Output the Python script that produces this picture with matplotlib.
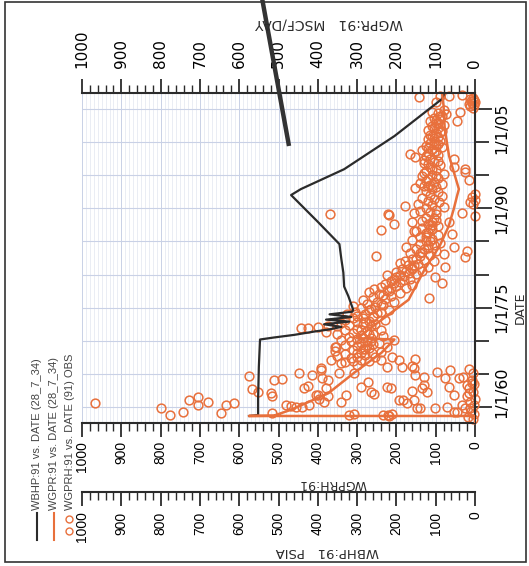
import matplotlib
matplotlib.use("Agg")
import matplotlib.pyplot as plt
from matplotlib.ticker import MultipleLocator, FixedLocator
from matplotlib.lines import Line2D
import matplotlib.transforms as mtransforms

plt.rcParams['font.family'] = ['DejaVu Sans']

ORANGE = '#e8703c'
DARK = '#2b2b2b'
GRID = '#c9d1e6'
GRID_MINOR = '#e1e6f0'

# WBHP:91 vs DATE (28_7_34) - bottom hole pressure, psia
bhp_year = [1958.66, 1958.8, 1961.1, 1966.1, 1970.2, 1970.5, 1970.9, 1971.4, 1971.7,
            1972.1, 1972.5, 1972.9, 1973.2, 1973.6, 1974.0, 1974.4, 1974.7, 1976.7,
            1978.2, 1980.3, 1982.3, 1984.6, 1987.9, 1992.0, 1992.9, 1995.9, 2000.9,
            2006.5, 2007.1]
bhp_psia = [575, 552, 552, 550, 547, 512, 460, 409, 373,
            340, 384, 320, 379, 315, 370, 312, 310, 322,
            333, 335, 340, 345, 399, 468, 443, 333, 205,
            84, 80]

# WGPR:91 vs DATE (28_7_34) - simulated gas rate, MSCF/DAY
gpr_year = [1957.6, 1958.66, 1958.66, 1958.7, 1959.6, 1962.1, 1965.2, 1968.2, 1970.2,
            1970.4, 1976.2, 1980.8, 1984.3, 1987.3, 1989.9, 1991.8, 1992.9, 1995.5,
            1997.9, 2002.0, 2005.5, 2007.4]
gpr_rate = [0, 0, 575, 512, 468, 373, 307, 238, 205,
            300, 169, 128, 90, 67, 54, 46, 41, 54,
            66, 77, 80, 84]

# WGPRH:91 vs DATE (91) OBS - observed gas rate
obs_year = [
    1960.6, 1959.9, 1958.8, 1959.3, 1961.1, 1961.5, 1960.3, 1960.8, 1959.1, 1960.3,
    1960.6, 1964.7, 1962.8, 1962.3, 1962.1, 1961.7, 1964.1, 1964.3, 1959.1, 1960.2,
    1965.2, 1960.0, 1962.9, 1960.3, 1963.2, 1964.9, 1961.8, 1965.6, 1964.4, 1960.8,
    1964.1, 1961.6, 1969.0, 1965.2, 1961.8, 1959.0, 1965.2, 1963.1, 1963.8, 1962.0,
    1962.9, 1958.8, 1959.0, 1961.1, 1962.4, 1961.1, 1959.9, 1962.3, 1965.9, 1964.9,
    1964.6, 1963.4, 1965.3, 1964.4, 1965.6, 1961.8, 1964.4, 1963.4, 1960.0, 1959.3,
    1960.3, 1960.0, 1961.8, 1961.2, 1962.9, 1958.8, 1960.8, 1962.3, 1963.0, 1958.8,
    1958.6, 1961.1, 1960.6, 1959.9, 1962.9, 1959.9, 1963.0, 1959.3, 1960.3, 1959.9,
    1962.1, 1963.6,
    1958.2, 1958.5, 1958.9, 1959.4, 1959.9, 1960.3, 1960.8, 1961.2, 1961.7, 1962.3,
    1962.9, 1963.5, 1964.1, 1964.6, 1965.2, 1965.8,
    1965.9, 1966.1, 1966.1, 1966.2, 1966.4, 1966.6, 1966.8, 1967.0, 1967.1, 1967.1,
    1967.1, 1967.1, 1967.2, 1967.4, 1967.5, 1967.6, 1967.7, 1967.8,
    1968.0, 1968.1, 1968.2, 1968.3, 1968.5, 1968.6, 1968.7, 1968.9, 1969.0, 1969.1,
    1969.2, 1969.4, 1969.5, 1969.6, 1969.7, 1969.9, 1970.0, 1970.1, 1970.2, 1970.3,
    1970.5, 1970.6, 1970.7,
    1970.9, 1971.0, 1971.1, 1971.2, 1971.4, 1971.5, 1971.6, 1971.7, 1971.8, 1972.0,
    1972.0, 1972.1, 1972.2, 1972.3, 1972.4, 1972.5, 1972.6, 1972.7, 1972.8, 1973.0,
    1973.1, 1973.2, 1973.4, 1973.5,
    1973.7, 1973.8, 1974.0, 1974.1, 1974.3, 1974.4, 1974.6, 1974.7, 1974.9, 1975.1,
    1975.2, 1975.4, 1975.6, 1975.8, 1975.9, 1976.1, 1976.3, 1976.4, 1976.6,
    1976.8, 1977.0, 1977.2, 1977.4, 1977.6, 1977.8, 1977.9, 1978.1, 1978.3, 1978.5,
    1978.6, 1978.8, 1978.9, 1979.1, 1979.3, 1979.4, 1979.6,
    1979.7, 1979.8, 1980.0, 1980.1, 1980.3, 1980.4, 1980.6, 1980.8, 1980.9, 1981.1,
    1981.2, 1981.4, 1981.6, 1981.8, 1982.0, 1982.0, 1982.2, 1982.4, 1982.6, 1982.8,
    1982.8,
    1983.0, 1983.1, 1983.2, 1983.4, 1983.5, 1983.6, 1983.8, 1984.0, 1984.1, 1984.2,
    1984.4, 1984.6, 1984.8, 1985.0, 1985.2, 1985.4, 1985.6, 1985.9,
    1986.1, 1986.3, 1986.5, 1986.6, 1986.7, 1986.9, 1987.1, 1987.3, 1987.6, 1987.7,
    1987.9, 1987.9, 1988.1, 1988.3, 1988.5, 1988.8, 1989.0, 1989.1, 1989.1, 1989.3,
    1989.3, 1989.4, 1989.6,
    1989.8, 1990.0, 1990.2, 1990.3, 1990.5, 1990.6, 1990.7, 1990.9, 1990.9, 1991.1,
    1991.2, 1991.4, 1991.6, 1991.7, 1991.8, 1992.0, 1992.2, 1992.4, 1992.6, 1992.9,
    1993.1, 1993.2, 1993.3, 1993.5, 1993.6, 1993.8, 1994.0, 1994.3, 1994.4, 1994.6,
    1994.8, 1995.0, 1995.2, 1995.5, 1995.6, 1995.8, 1995.9, 1996.2, 1996.3, 1996.5,
    1996.8, 1997.0, 1997.3, 1997.4, 1997.5, 1997.8, 1998.0, 1998.2, 1998.4, 1998.6,
    1998.8, 1999.0, 1999.2, 1999.4, 1999.6, 1999.9, 2000.1, 2000.4, 2000.6,
    2000.8, 2001.1, 2001.4, 2001.6, 2001.8, 2002.1, 2002.4, 2002.6, 2002.8, 2003.1,
    2003.2, 2003.5, 2003.7, 2003.9, 2004.2, 2004.4, 2004.6,
    2004.9, 2005.2, 2005.4, 2005.6, 2005.7, 2005.9, 2006.0, 2006.2, 2006.3, 2006.5,
    2006.6, 2006.8, 2007.0, 2007.1, 2006.9, 2006.1,
    1993.4, 1994.1, 1994.9, 1995.3, 1996.0, 1996.7, 1997.2, 1997.9, 1998.5, 1999.1,
    1999.7, 2000.2, 2000.9, 2001.5, 2002.2, 2002.9, 2003.4, 2004.0, 2004.5,
    1976.9, 1977.5, 1978.0, 1978.7, 1979.2, 1979.9, 1980.5, 1981.0, 1981.5, 1982.3,
    1983.3, 1983.9, 1984.5, 1985.1, 1985.7, 1986.4, 1987.0, 1987.5, 1988.0, 1988.6,
    1989.2,
    1966.9, 1967.5, 1968.2, 1968.8, 1969.3, 1969.9, 1970.4, 1971.0, 1971.6, 1972.2,
    1972.9, 1973.6, 1974.2, 1974.8, 1975.5,
]
obs_rate = [
    967, 800, 777, 744, 729, 706, 706, 680, 647, 634,
    614, 575, 568, 552, 519, 517, 512, 491, 517, 468,
    448, 440, 435, 422, 425, 414, 399, 391, 389, 384,
    373, 373, 355, 345, 327, 307, 307, 289, 271, 258,
    215, 222, 210, 182, 161, 156, 141, 123, 156, 153,
    130, 130, 97, 77, 64, 54, 41, 20, 72, 46,
    481, 455, 404, 398, 380, 320, 340, 265, 225, 233,
    220, 194, 174, 148, 136, 102, 67, 54, 33, 13,
    15, 8,
    5, 18, 2, 10, 25, 3, 12, 0, 20, 6,
    14, 2, 8, 30, 4, 15,
    391, 225, 187, 161, 300, 340, 332, 270, 366, 289,
    238, 194, 153, 315, 255, 212, 350, 280,
    330, 300, 262, 240, 355, 310, 285, 270, 353, 225,
    300, 330, 260, 290, 245, 315, 275, 205, 340, 300,
    265, 320, 235,
    290, 350, 260, 310, 380, 275, 330, 240, 300, 442,
    425, 399, 373, 350, 320, 285, 255, 340, 300, 270,
    330, 230, 310, 285,
    300, 260, 325, 280, 240, 305, 270, 220, 290, 255,
    310, 235, 275, 250, 205, 285, 230, 118, 260,
    215, 245, 190, 270, 225, 256, 175, 240, 200, 160,
    230, 84, 190, 215, 205, 165, 200,
    102, 180, 225, 150, 169, 200, 135, 185, 160, 120,
    77, 170, 145, 190, 179, 105, 130, 160, 26, 251,
    140,
    115, 79, 165, 135, 20, 100, 150, 120, 54, 175,
    105, 140, 90, 125, 160, 110, 140, 95,
    59, 125, 150, 156, 238, 110, 135, 95, 207, 120,
    161, 66, 136, 100, 125, 0, 220, 368, 222, 156,
    33, 115, 140,
    100, 125, 80, 179, 110, 5, 145, 92, 13, 120,
    0, 105, 135, 8, 85, 115, 0, 95, 125, 110,
    153, 100, 130, 115, 85, 140, 105, 15, 120, 95,
    135, 110, 80, 26, 125, 100, 26, 54, 115, 90,
    130, 105, 130, 54, 115, 153, 95, 166, 120, 100,
    135, 110, 85, 125, 100, 115, 90, 120, 105,
    95, 115, 100, 85, 120, 95, 110, 80, 100, 46,
    115, 90, 105, 90, 75, 95, 38,
    80, 5, 12, 2, 15, 8, 0, 10, 3, 13,
    6, 143, 66, 33, 90, 100,
    120, 125, 100, 130, 110, 120, 95, 125, 105, 120,
    95, 105, 110, 90, 105, 95, 100, 85, 110,
    235, 220, 215, 205, 180, 190, 175, 160, 155, 150,
    140, 130, 120, 115, 125, 120, 115, 110, 110, 105,
    100,
    310, 300, 290, 280, 275, 265, 285, 270, 290, 265,
    280, 260, 250, 265, 240,
]

date_ticks = [1960, 1975, 1990, 2005]
date_labels = ['1/1/60', '1/1/75', '1/1/90', '1/1/05']
date_minor = [1965, 1970, 1980, 1985, 1995, 2000]

W, H = 529, 566
fig = plt.figure(figsize=(W / 100, H / 100), dpi=100)
L, R, T, B = 82, 475, 93, 423
ax = fig.add_axes([L / W, 1 - B / H, (R - L) / W, (B - T) / H])
ax.set_xlim(1000, 0)
ax.set_ylim(1957.6, 2007.4)

# grid paper
for v in range(0, 1001, 10):
    ax.axvline(v, color=GRID if v % 100 == 0 else GRID_MINOR, lw=0.7 if v % 100 == 0 else 0.5, zorder=0)
for yr in range(1960, 2006, 5):
    ax.axhline(yr, color=GRID, lw=0.8, zorder=0)

ax.plot(bhp_psia, bhp_year, color=DARK, lw=1.6, zorder=3)
ax.plot(gpr_rate, gpr_year, color=ORANGE, lw=1.8, zorder=3)
ax.plot(obs_rate, obs_year, 'o', mfc='none', mec=ORANGE, ms=6.3, mew=1.1, zorder=2, clip_on=False)

num_font = ['Liberation Sans Narrow', 'Liberation Sans', 'DejaVu Sans']

# bottom axis: WGPRH:91
ax.spines['left'].set_visible(False)
ax.spines['top'].set_visible(False)
for s in ('bottom', 'right'):
    ax.spines[s].set_linewidth(1.5)
    ax.spines[s].set_color(DARK)
ax.xaxis.set_major_locator(MultipleLocator(100))
ax.xaxis.set_minor_locator(MultipleLocator(20))
ax.tick_params(axis='x', which='major', direction='out', length=10, width=1.3, color=DARK,
               labelrotation=90, labelsize=10, pad=3, labelfontfamily=num_font)
ax.tick_params(axis='x', which='minor', direction='out', length=6, width=1.0, color=DARK)

# right axis: DATE
ax.yaxis.tick_right()
ax.yaxis.set_major_locator(FixedLocator(date_ticks))
ax.yaxis.set_minor_locator(FixedLocator(date_minor))
ax.set_yticklabels(date_labels)
ax.tick_params(axis='y', which='major', direction='out', length=12, width=1.3, color=DARK,
               labelrotation=90, labelsize=11.5, pad=2)
ax.tick_params(axis='y', which='minor', direction='out', length=10, width=1.3, color=DARK)
shift = {'1/1/60': 15, '1/1/05': -19}
for lab in ax.get_yticklabels():
    lab.set_va('center')
    dy = shift.get(lab.get_text(), 0)
    if dy:
        lab.set_transform(lab.get_transform() + mtransforms.ScaledTranslation(0, dy / 100, fig.dpi_scale_trans))

# top axis: WGPR:91 MSCF/DAY
top = ax.twiny()
top.set_xlim(1000, 0)
for s in ('left', 'right', 'bottom'):
    top.spines[s].set_visible(False)
top.spines['top'].set_linewidth(1.5)
top.spines['top'].set_color(DARK)
top.xaxis.set_major_locator(MultipleLocator(100))
top.xaxis.set_minor_locator(MultipleLocator(20))
top.tick_params(axis='x', which='major', direction='out', length=10, width=1.3, color=DARK,
                labelrotation=90, labelsize=11, pad=8)
top.tick_params(axis='x', which='minor', direction='out', length=6, width=1.0, color=DARK)

# second bottom axis: WBHP:91 PSIA
bhp_ax = ax.twiny()
bhp_ax.set_xlim(1000, 0)
bhp_ax.xaxis.set_ticks_position('bottom')
bhp_ax.xaxis.set_label_position('bottom')
for s in ('left', 'right', 'top'):
    bhp_ax.spines[s].set_visible(False)
bhp_ax.spines['bottom'].set_position(('outward', 69 * 0.72))
bhp_ax.spines['bottom'].set_linewidth(1.5)
bhp_ax.spines['bottom'].set_color(DARK)
bhp_ax.xaxis.set_major_locator(MultipleLocator(100))
bhp_ax.xaxis.set_minor_locator(MultipleLocator(20))
bhp_ax.tick_params(axis='x', which='major', direction='out', length=10, width=1.3, color=DARK,
                   labelrotation=90, labelsize=10, pad=4, labelfontfamily=num_font)
bhp_ax.tick_params(axis='x', which='minor', direction='out', length=6, width=1.0, color=DARK)

# axis titles
fig.text(329 / W, 1 - 24 / H, 'WGPR:91   MSCF/DAY', rotation=180, ha='center', va='center', fontsize=10, color=DARK)
fig.text(333 / W, 1 - 483 / H, 'WGPRH:91', rotation=180, ha='center', va='center', fontsize=9, color=DARK)
fig.text(327 / W, 1 - 552 / H, 'WBHP:91   PSIA', rotation=180, ha='center', va='center', fontsize=9.5, color=DARK)
fig.text(520 / W, 1 - 308 / H, 'DATE', rotation=90, ha='center', va='center', fontsize=9, color=DARK)

# legend, written sideways
fig.add_artist(Line2D([37 / W, 37 / W], [1 - 540 / H, 1 - 513 / H], color=DARK, lw=1.5))
fig.add_artist(Line2D([54 / W, 54 / W], [1 - 540 / H, 1 - 513 / H], color=ORANGE, lw=1.5))
fig.add_artist(Line2D([69 / W, 69 / W], [1 - 531 / H, 1 - 519 / H], ls='none', marker='o', mfc='none',
                      mec=ORANGE, ms=5, mew=1.0))
legend_text = ['WBHP:91 vs. DATE (28_7_34)', 'WGPR:91 vs. DATE (28_7_34)', 'WGPRH:91 vs. DATE (91) OBS']
for xpx, txt in zip([37, 54, 70], legend_text):
    fig.text(xpx / W, 1 - 510 / H, txt, rotation=90, ha='center', va='bottom', fontsize=8,
             color='#444444', family=['Liberation Sans', 'DejaVu Sans'])

# marker stroke across the top
fig.add_artist(Line2D([262 / W, 289 / W], [1 + 2 / H, 1 - 146 / H], color='#333333', lw=3.2,
                      solid_capstyle='butt'))

# page frame
fig.add_artist(plt.Rectangle((5 / W, 1 - 562 / H), 521 / W, 560 / H, transform=fig.transFigure,
                             fill=False, ec='#333333', lw=1.2))

fig.savefig('out.png', dpi=100)
